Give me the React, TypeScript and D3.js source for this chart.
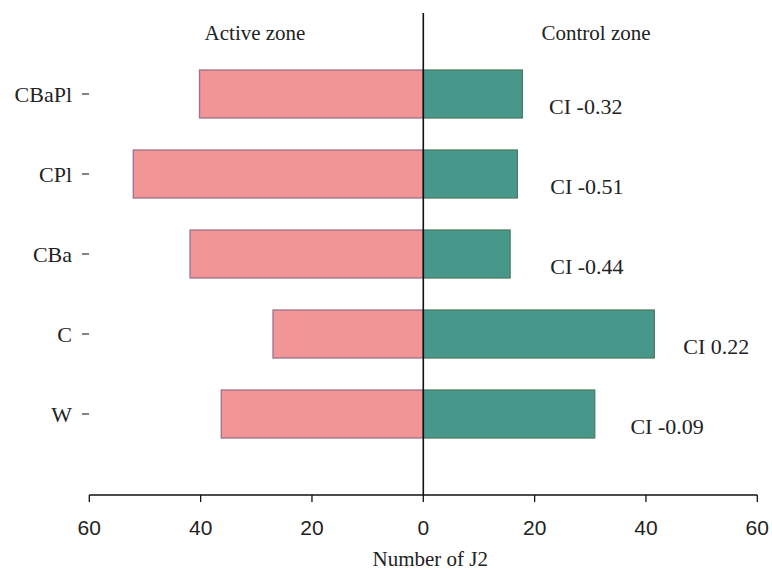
import React from "react";
import * as d3 from "d3";

const categories = ["CBaPl", "CPl", "CBa", "C", "W"];
const activeZone = [40.2, 52.1, 41.9, 27.0, 36.3];
const controlZone = [17.8, 16.9, 15.6, 41.5, 30.8];
const ciLabels = ["CI -0.32", "CI -0.51", "CI -0.44", "CI 0.22", "CI -0.09"];
const ciLabelX = [22.6, 22.8, 22.8, 46.7, 37.2];
const tickValues = [-60, -40, -20, 0, 20, 40, 60];

const W = 772;
const H = 570;

export default function App() {
  const x = d3.scaleLinear().domain([-60, 60]).range([89.3, 757.3]);
  const y = d3
    .scaleBand<string>()
    .domain(categories)
    .range([54, 454])
    .paddingInner(0.4)
    .paddingOuter(0.2);
  const serif = "'Liberation Serif', 'Times New Roman', serif";
  const sans = "'Liberation Sans', Arial, sans-serif";
  const axisY = 495;
  const x0 = x(0);

  return (
    <svg
      width={W}
      height={H}
      style={{ position: "absolute", left: 0, top: 0, background: "#fff" }}
    >
      {categories.map((c, i) => {
        const yy = y(c)!;
        const bh = y.bandwidth();
        return (
          <g key={c}>
            <rect
              x={x(-activeZone[i])}
              y={yy}
              width={x0 - x(-activeZone[i])}
              height={bh}
              fill="#F29597"
              stroke="#9A7190"
              strokeWidth={1.3}
            />
            <rect
              x={x0}
              y={yy}
              width={x(controlZone[i]) - x0}
              height={bh}
              fill="#48978B"
              stroke="#4E7D63"
              strokeWidth={1.3}
            />
            <text
              x={72}
              y={yy + bh / 2}
              textAnchor="end"
              dominantBaseline="central"
              fontFamily={serif}
              fontSize={22}
              fill="#222"
            >
              {c}
            </text>
            <line x1={82} x2={89} y1={yy + bh / 2} y2={yy + bh / 2} stroke="#333" strokeWidth={1.2} />
            <text
              x={x(ciLabelX[i])}
              y={yy + bh / 2 + 12}
              dominantBaseline="central"
              fontFamily={serif}
              fontSize={22}
              fill="#222"
            >
              {ciLabels[i]}
            </text>
          </g>
        );
      })}
      <line x1={x0} x2={x0} y1={13} y2={axisY} stroke="#111" strokeWidth={1.6} />
      <line x1={x(-60)} x2={x(60)} y1={axisY} y2={axisY} stroke="#111" strokeWidth={1.6} />
      {tickValues.map((t) => (
        <g key={t}>
          <line x1={x(t)} x2={x(t)} y1={axisY} y2={axisY + 7} stroke="#111" strokeWidth={1.3} />
          <text
            x={x(t)}
            y={527}
            textAnchor="middle"
            dominantBaseline="central"
            fontFamily={sans}
            fontSize={21}
            fill="#222"
          >
            {Math.abs(t)}
          </text>
        </g>
      ))}
      <text x={255} y={33} textAnchor="middle" dominantBaseline="central" fontFamily={serif} fontSize={21} fill="#222">
        Active zone
      </text>
      <text x={596} y={33} textAnchor="middle" dominantBaseline="central" fontFamily={serif} fontSize={21} fill="#222">
        Control zone
      </text>
      <text x={x0 + 7} y={559} textAnchor="middle" dominantBaseline="central" fontFamily={serif} fontSize={21} fill="#222">
        Number of J2
      </text>
    </svg>
  );
}
